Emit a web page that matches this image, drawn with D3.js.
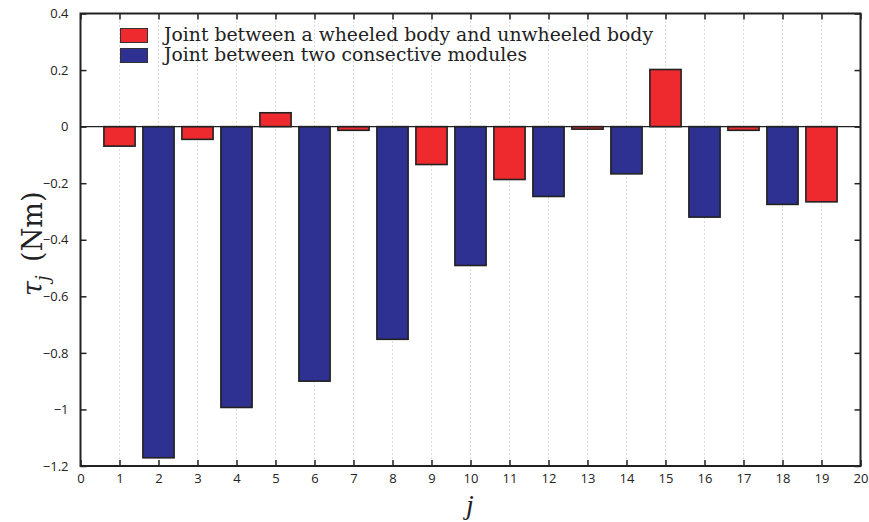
<!DOCTYPE html>
<html>
<head>
<meta charset="utf-8">
<script src="https://cdn.jsdelivr.net/npm/d3@7"></script>
<style>
  html, body { margin: 0; padding: 0; background: #fff; }
  svg { display: block; }
</style>
</head>
<body>
<svg id="chart" width="869" height="522"></svg>
<script>
// Joint indices and torque values (Nm)
const joints = [1, 2, 3, 4, 5, 6, 7, 8, 9, 10, 11, 12, 13, 14, 15, 16, 17, 18, 19];
const torques = [-0.069, -1.171, -0.045, -0.993, 0.049, -0.90, -0.013, -0.752, -0.134, -0.491,
                 -0.187, -0.247, -0.009, -0.167, 0.202, -0.32, -0.013, -0.275, -0.266];
// joint type: "w" = wheeled/unwheeled joint, "m" = module-to-module joint
const jointTypes = ["w", "m", "w", "m", "w", "m", "w", "m", "w", "m",
                    "w", "m", "w", "m", "w", "m", "w", "m", "w"];
const xTicks = d3.range(0, 21);
const yTicks = [0.4, 0.2, 0, -0.2, -0.4, -0.6, -0.8, -1, -1.2];
const legendLabels = ["Joint between a wheeled body and unwheeled body",
                      "Joint between two consective modules"];
const colors = { w: "#ee2a2f", m: "#2e3192" };

const svg = d3.select("#chart");
const plotL = 80.5, plotR = 860.5, plotT = 13.5, plotB = 466;

const x = d3.scaleLinear().domain([0, 20]).range([plotL, plotR]);
const y = d3.scaleLinear().domain([-1.2, 0.4]).range([plotB, plotT]);
const barW = (x(1) - x(0)) * 0.8;

// vertical dotted grid
svg.append("g").selectAll("line").data(xTicks.slice(1, -1)).join("line")
  .attr("x1", d => x(d)).attr("x2", d => x(d))
  .attr("y1", plotT).attr("y2", plotB)
  .attr("stroke", "#b8b8b8").attr("stroke-width", 1)
  .attr("stroke-dasharray", "1,3");

// legend (drawn before bars, as in the plot layering)
const lg = svg.append("g");
legendLabels.forEach((t, i) => {
  const yy = 28 + i * 20;
  lg.append("rect").attr("x", 120.5).attr("y", yy + 0.5).attr("width", 27).attr("height", 14)
    .attr("fill", i === 0 ? colors.w : colors.m)
    .attr("stroke", "#333").attr("stroke-width", 1);
  lg.append("text").attr("x", 164).attr("y", yy + 13)
    .attr("font-family", "'DejaVu Serif', 'Liberation Serif', serif")
    .attr("font-size", 18).attr("fill", "#222")
    .attr("textLength", i === 0 ? 489 : 363).attr("lengthAdjust", "spacingAndGlyphs")
    .text(t);
});

// bars
const data = joints.map((j, i) => ({ j, v: torques[i], t: jointTypes[i] }));
svg.append("g").selectAll("rect").data(data).join("rect")
  .attr("x", d => x(d.j) - barW / 2)
  .attr("y", d => Math.min(y(d.v), y(0)))
  .attr("width", barW)
  .attr("height", d => Math.abs(y(d.v) - y(0)))
  .attr("fill", d => colors[d.t])
  .attr("stroke", "#222").attr("stroke-width", 1.6);

// zero baseline
svg.append("line").attr("x1", plotL).attr("x2", plotR)
  .attr("y1", y(0)).attr("y2", y(0))
  .attr("stroke", "#222").attr("stroke-width", 1.4);

// axes with inward ticks
const tickFont = "'Open Sans', 'DejaVu Sans', sans-serif";
const xAxis = svg.append("g").attr("transform", `translate(0,${plotB})`)
  .call(d3.axisBottom(x).tickValues(xTicks).tickSizeInner(-6).tickSizeOuter(0).tickPadding(8)
        .tickFormat(d3.format("d")));
xAxis.select(".domain").remove();
xAxis.selectAll("line").attr("stroke", "#222").attr("stroke-width", 1.5);
xAxis.selectAll("text").attr("font-family", tickFont).attr("font-size", 13).attr("fill", "#222");

const fmtY = d => (d < 0 ? "\u2212" : "") + d3.format("")(Math.abs(+d.toFixed(1)));
const yAxis = svg.append("g").attr("transform", `translate(${plotL},0)`)
  .call(d3.axisLeft(y).tickValues(yTicks).tickSizeInner(-6).tickSizeOuter(0).tickPadding(12)
        .tickFormat(fmtY));
yAxis.select(".domain").remove();
yAxis.selectAll("line").attr("stroke", "#222").attr("stroke-width", 1.5);
yAxis.selectAll("text").attr("font-family", tickFont).attr("font-size", 13).attr("fill", "#222");

// mirrored ticks on top and right
svg.append("g").attr("transform", `translate(0,${plotT})`)
  .call(d3.axisTop(x).tickValues(xTicks).tickSizeInner(-6).tickSizeOuter(0).tickFormat(""))
  .call(g => g.select(".domain").remove())
  .selectAll("line").attr("stroke", "#222").attr("stroke-width", 1.5);
svg.append("g").attr("transform", `translate(${plotR},0)`)
  .call(d3.axisRight(y).tickValues(yTicks).tickSizeInner(-6).tickSizeOuter(0).tickFormat(""))
  .call(g => g.select(".domain").remove())
  .selectAll("line").attr("stroke", "#222").attr("stroke-width", 1.5);

// frame
svg.append("rect").attr("x", plotL).attr("y", plotT)
  .attr("width", plotR - plotL).attr("height", plotB - plotT)
  .attr("fill", "none").attr("stroke", "#222").attr("stroke-width", 2);

// axis titles
const yl = svg.append("text")
  .attr("transform", `translate(42,${(plotT + plotB) / 2 + 4}) rotate(-90)`)
  .attr("text-anchor", "middle")
  .attr("font-family", "'DejaVu Serif', 'Liberation Serif', serif")
  .attr("font-size", 27).attr("fill", "#222");
yl.append("tspan").attr("font-style", "italic").text("\u03C4");
yl.append("tspan").attr("font-style", "italic").attr("font-size", 18).attr("dy", 7).text("j");
yl.append("tspan").attr("dy", -7).text("\u2002(Nm)");

svg.append("text").attr("x", 470).attr("y", 514)
  .attr("text-anchor", "middle")
  .attr("font-family", "'Liberation Serif', 'DejaVu Serif', serif")
  .attr("font-style", "italic").attr("font-size", 28).attr("fill", "#222")
  .text("j");
</script>
</body>
</html>
